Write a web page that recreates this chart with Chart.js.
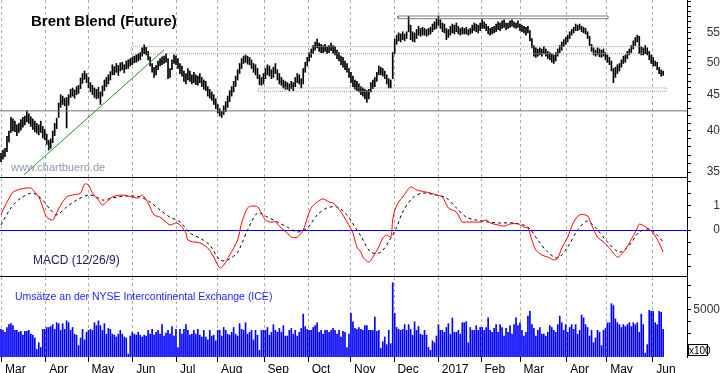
<!DOCTYPE html>
<html>
<head>
<meta charset="utf-8">
<script src="https://cdn.jsdelivr.net/npm/chart.js@4.4.0/dist/chart.umd.min.js"></script>
<style>
  html, body { margin: 0; padding: 0; background: #fff; }
  #wrap { position: relative; width: 723px; height: 373px; overflow: hidden; background: #fff; }
  canvas { position: absolute; left: 0; }
</style>
</head>
<body>
<div id="wrap">
  <canvas id="price" style="top:0" width="723" height="178"></canvas>
  <canvas id="macd" style="top:178px" width="723" height="99"></canvas>
  <canvas id="vol" style="top:277px" width="723" height="96"></canvas>
</div>
<script>
// month starts, as bar index (one bar per trading day, first bar = 29 Feb 2016)
const monthStarts = [0.4, 22.6, 43.9, 66.3, 88.4, 109, 132.4, 154.6, 175.9, 197.7, 220, 241.5, 261.1, 284.6, 304.7, 327.9];
const monthLabels = ['Mar', 'Apr', 'May', 'Jun', 'Jul', 'Aug', 'Sep', 'Oct', 'Nov', 'Dec', '2017', 'Feb', 'Mar', 'Apr', 'May', 'Jun'];

// daily highs / lows (USD)
const priceHigh = [
  37.2, 37.6, 37.8, 39.3, 40.0, 41.8, 41.6, 41.3, 40.8, 41.0, 41.5, 41.8, 42.0, 42.7, 42.3, 41.9, 41.6, 41.3, 41.0, 40.8, 41.3, 40.6,
  40.2, 39.6, 38.8, 39.0, 40.0, 41.0, 41.7, 43.8, 45.0, 44.8, 44.5, 44.6, 45.0, 45.8, 46.0, 45.7, 46.2, 46.4, 47.5, 48.2, 48.6, 48.2,
  47.6, 46.8, 46.4, 46.0, 45.8, 46.1, 45.4, 46.3, 47.2, 47.6, 48.0, 48.5, 49.6, 49.3, 49.8, 49.5, 49.9, 50.0, 49.6, 50.2, 50.4, 50.6,
  50.8, 51.0, 51.2, 51.4, 51.6, 52.4, 52.9, 52.5, 51.8, 50.9, 49.8, 49.2, 49.5, 50.2, 50.6, 50.9, 51.0, 51.4, 50.6, 49.0, 50.4, 51.2,
  51.0, 50.6, 49.8, 49.4, 48.6, 48.2, 49.0, 48.6, 48.0, 48.4, 48.0, 47.8, 48.2, 47.6, 47.2, 47.0, 46.2, 45.8, 45.4, 45.0, 44.4,
  43.6, 43.0, 42.6, 43.4, 44.0, 44.8, 45.6, 46.2, 47.0, 47.8, 48.8, 49.8, 50.6, 51.0, 51.2, 51.0, 50.8, 50.4, 49.8, 49.6, 49.0, 48.0, 47.6,
  48.2, 49.0, 49.6, 49.4, 48.8, 49.2, 49.8, 48.8, 48.2, 47.6, 47.2, 47.0, 46.8, 46.6, 47.0, 46.8, 47.6, 48.2, 48.0, 47.4, 49.0, 50.0,
  50.8, 51.6, 52.2, 52.8, 53.4, 53.9, 53.2, 53.0, 52.8, 53.0, 52.6, 52.8, 53.2, 52.8, 52.6, 52.0, 51.6, 51.0, 50.8, 50.2, 49.8, 49.0,
  48.4, 47.8, 47.2, 47.0, 46.6, 46.2, 46.0, 45.8, 45.6, 45.8, 46.8, 47.2, 47.6, 48.4, 49.4, 49.2, 49.0, 48.6, 48.0, 47.4, 47.2, 51.6,
  53.9, 54.6, 55.0, 54.8, 55.2, 54.8, 55.2, 58.0, 56.4, 55.2, 55.0, 55.6, 56.2, 55.8, 56.0, 55.8, 55.6, 55.8, 56.0, 56.6, 57.0, 57.6,
  58.1, 57.4, 56.8, 56.6, 55.8, 55.6, 56.2, 56.6, 56.4, 56.8, 56.2, 55.8, 56.0, 55.8, 56.0, 55.6, 55.8, 56.4, 56.8, 56.6, 56.4,
  56.8, 57.4, 57.0, 56.6, 56.2, 55.8, 56.0, 56.2, 56.6, 57.0, 56.8, 57.2, 57.4, 56.8, 56.8, 57.2, 57.4, 57.0, 56.8, 57.2,
  56.6, 56.4, 56.2, 56.0, 56.2, 55.4, 54.0, 52.8, 52.4, 52.2, 52.4, 52.2, 52.6, 52.2, 51.8, 51.6, 51.4, 51.2, 51.6, 52.2, 52.8, 53.4, 53.8,
  54.2, 54.6, 55.2, 55.6, 56.0, 56.6, 56.4, 56.6, 56.2, 56.0, 55.8, 55.2, 54.4, 53.0, 52.4, 52.0, 52.4, 52.2, 52.0, 52.2,
  51.6, 51.2, 50.8, 50.2, 49.0, 49.2, 49.6, 49.8, 50.4, 51.0, 51.2, 51.8, 52.2, 52.8, 53.6, 54.2, 54.6, 54.4, 52.6, 52.4, 52.8, 52.4, 51.8,
  51.2, 50.8, 50.2, 50.0, 49.2, 48.8, 48.6
];
const priceLow = [
  36.2, 36.5, 36.8, 37.4, 38.6, 39.8, 40.0, 39.9, 39.4, 39.8, 40.1, 40.5, 40.8, 41.2, 41.0, 40.6, 40.2, 39.9, 39.7, 39.5, 39.8, 39.1,
  38.9, 38.3, 37.6, 37.8, 38.5, 39.4, 40.3, 41.8, 43.2, 43.6, 43.4, 40.4, 43.5, 44.6, 44.8, 44.5, 45.0, 45.2, 45.9, 46.7, 47.3, 46.8,
  46.0, 45.4, 45.0, 44.6, 44.4, 44.5, 43.6, 44.8, 45.6, 46.2, 46.6, 47.2, 48.0, 48.0, 48.4, 47.9, 48.6, 48.8, 48.3, 48.9, 49.0, 49.4,
  49.6, 49.9, 50.0, 50.2, 50.4, 51.0, 51.4, 51.2, 50.4, 49.4, 48.4, 47.6, 48.0, 48.8, 49.4, 49.6, 49.8, 50.0, 47.4, 47.6, 48.8, 49.8,
  49.6, 49.0, 48.2, 47.8, 47.0, 46.6, 47.2, 47.0, 46.6, 46.8, 46.5, 46.4, 46.8, 46.2, 45.8, 45.6, 44.8, 44.5, 44.2, 43.6, 43.0,
  42.4, 42.0, 41.8, 42.2, 42.6, 43.2, 44.0, 44.8, 45.4, 46.2, 47.2, 48.2, 49.0, 49.8, 50.0, 49.7, 49.6, 49.0, 48.4, 48.0, 47.4, 46.5, 46.4,
  46.6, 47.4, 48.0, 47.8, 47.4, 47.6, 48.2, 47.2, 46.6, 46.4, 46.0, 45.8, 45.8, 45.6, 45.9, 45.6, 46.2, 46.8, 46.6, 46.0, 46.6, 48.4,
  49.4, 50.2, 50.8, 51.4, 52.0, 52.4, 51.8, 51.6, 51.6, 51.8, 51.4, 51.6, 51.9, 51.5, 51.2, 50.6, 50.2, 49.6, 49.2, 48.8, 48.4, 47.6,
  46.8, 46.2, 45.8, 45.6, 45.4, 45.0, 44.8, 44.4, 43.9, 44.4, 45.4, 45.9, 46.2, 47.0, 48.0, 48.0, 47.8, 47.4, 46.6, 46.0, 46.0, 47.4,
  51.4, 53.0, 53.6, 53.4, 53.8, 53.6, 54.0, 55.2, 53.8, 53.5, 53.4, 54.0, 54.6, 54.4, 54.6, 54.6, 54.4, 54.6, 54.8, 55.2, 55.6, 55.8,
  56.4, 55.8, 55.2, 55.0, 53.8, 54.2, 54.6, 55.0, 54.8, 55.2, 54.8, 54.6, 54.8, 54.8, 54.8, 54.6, 54.8, 55.0, 55.4, 55.2, 55.0,
  55.4, 55.8, 55.8, 55.4, 54.8, 54.6, 54.8, 55.0, 55.2, 55.6, 55.4, 55.8, 56.0, 55.6, 55.8, 56.0, 56.2, 56.0, 55.8, 56.0,
  55.4, 55.2, 55.0, 54.6, 55.0, 53.6, 52.4, 51.0, 50.8, 51.0, 51.2, 51.0, 51.4, 51.0, 50.6, 50.4, 50.0, 49.8, 50.2, 51.0, 51.6, 52.0, 52.6,
  53.0, 53.4, 54.0, 54.6, 55.0, 55.4, 55.4, 55.6, 55.2, 55.0, 54.8, 54.0, 52.8, 51.8, 51.2, 51.0, 51.2, 50.9, 50.8, 51.0,
  50.4, 50.0, 49.6, 48.6, 46.8, 47.6, 48.2, 48.6, 49.2, 49.8, 50.0, 50.6, 51.2, 51.6, 52.2, 52.8, 53.4, 51.4, 51.2, 51.2, 51.4, 51.2, 50.4,
  49.8, 49.4, 49.4, 48.8, 48.2, 47.8, 47.9
];

// chart marks drawn on the price panel: [fromIdx, toIdx, low, high]
const boxes = [
  [65.4, 322.4, 51.4, 52.6],
  [129.3, 334.5, 45.5, 46.0],
  [199.7, 305.3, 57.6, 58.1]
];
const supportLevel = 42.7;
const trendFrom = [11.6, 34.7];
const trendTo = [82, 52.05];

// MACD (12/26/9), sampled
const macdIdx = [0,1,3,5,6,10,15,16,19,21,23,26,27,30,33,36,40,42,44,46,49,51,53,56,61,66,69,71,74,77,80,83,85,88,90,93,94,97,100,104,107,110,112,115,119,121,124,126,129,131,133,135,138,141,144,146,149,152,154,156,159,162,165,167,171,174,177,179,181,182,185,187,190,192,194,196,197,198,200,202,206,209,216,219,222,225,229,232,234,237,241,244,246,250,253,256,260,263,265,267,269,272,275,278,280,282,285,288,291,295,297,300,303,306,310,313,316,320,321,325,328,331,333];
const macdLine = [0.62,0.82,1.15,1.44,1.56,1.69,1.73,1.65,1.36,0.95,0.53,0.41,0.53,1.03,1.36,1.44,1.52,1.89,1.85,1.52,1.23,1.03,1.15,1.36,1.44,1.36,1.32,1.44,1.11,0.62,0.53,0.33,0.21,0.29,0.21,-0.12,-0.41,-0.49,-0.53,-0.74,-1.11,-1.56,-1.44,-1.03,-0.41,0.29,0.91,0.99,0.95,0.70,0.41,0.33,0.33,0.08,-0.12,-0.29,-0.29,0,0.49,0.91,1.15,1.28,1.15,1.11,0.74,0.33,-0.12,-0.70,-0.91,-1.11,-1.32,-1.11,-0.70,-0.33,-0.21,-0.29,0.41,0.82,1.15,1.36,1.77,1.65,1.52,1.44,1.36,0.91,0.74,0.33,0.33,0.33,0.33,0.41,0.29,0.21,0.16,0.25,0.25,0.12,0.08,-0.41,-0.82,-1.03,-1.11,-1.23,-1.15,-0.74,-0.29,0.33,0.62,0.58,0.21,-0.29,-0.49,-0.74,-1.11,-0.91,-0.53,0.08,0.25,0.08,-0.12,-0.53,-0.91];
const signalIdx = [0,5,10,16,21,25,28,33,38,44,48,51,56,63,70,75,80,85,90,95,100,105,110,114,119,124,129,134,139,144,149,154,159,164,169,174,179,181,186,191,196,199,202,207,212,219,224,229,234,239,245,251,258,265,270,275,280,285,290,295,300,305,311,316,321,326,330,333];
const signalLine = [0.21,0.91,1.32,1.52,1.23,0.82,0.62,0.95,1.23,1.44,1.36,1.23,1.32,1.40,1.36,1.15,0.82,0.53,0.33,-0.12,-0.33,-0.62,-1.23,-1.23,-0.91,0,0.70,0.53,0.33,0.12,-0.08,0.08,0.62,0.91,0.95,0.62,0,-0.25,-0.91,-0.91,-0.33,0.12,0.74,1.32,1.52,1.44,1.32,0.91,0.53,0.41,0.33,0.29,0.29,0.12,-0.41,-0.91,-1.15,-0.70,0,0.37,0,-0.49,-0.91,-0.62,-0.08,0.04,-0.21,-0.49];

// daily volume (x100)
const volume = [
  2900, 2800, 2600, 3100, 3400, 3500, 3300, 2800, 2800, 2600, 2700, 2300, 2700, 2700, 2800, 2400, 2300, 2000, 800, 1500, 1000, 2900,
  2900, 3100, 3100, 3200, 3400, 2900, 3600, 3500, 2800, 3500, 2900, 3800, 3600, 2800, 3100, 2400, 2300, 1200, 2000, 2900, 1800, 2600,
  2800, 2900, 2800, 3600, 3300, 3800, 3300, 2800, 3500, 2400, 3000, 2900, 2400, 2300, 2100, 2400, 2800, 2400, 2100, 2000, 300, 2200,
  2600, 2400, 2300, 2600, 2300, 2100, 2300, 2200, 2800, 2400, 2900, 2300, 2600, 2800, 2400, 3400, 2200, 2500, 2800, 2400, 3200, 2200,
  2900, 1000, 2900, 2400, 2900, 3400, 2800, 2300, 2400, 2800, 2400, 2900, 2300, 2100, 2800, 2100, 1800, 2800, 2200, 2300, 1700,
  2800, 2800, 2200, 3100, 2800, 2400, 2300, 2600, 3100, 2400, 2200, 3500, 2900, 2800, 3600, 2400, 2600, 2800, 1800, 2800, 2300, 700, 2800,
  2800, 2800, 3100, 2300, 2600, 3400, 2800, 2600, 3000, 2600, 3300, 2200, 2200, 2800, 3000, 2400, 2800, 2200, 2600, 3000, 4500, 3200,
  2900, 2800, 2800, 3100, 3300, 3600, 2600, 2800, 2400, 2800, 2800, 2600, 2800, 3000, 2800, 2400, 2800, 2100, 2700, 2600, 1000, 2400,
  4600, 3700, 3000, 2900, 3100, 2900, 2800, 3300, 3300, 2800, 2800, 2800, 4200, 2700, 2800, 900, 1600, 2100, 1300, 2800, 1400, 7800,
  4600, 3100, 2900, 2800, 2900, 3400, 2800, 3400, 2900, 2300, 3700, 2800, 3200, 2400, 2300, 2800, 2300, 1000, 700, 1700, 1500, 2200,
  3400, 2800, 2800, 2600, 3100, 3500, 2400, 4100, 2600, 2600, 2800, 2400, 3600, 3600, 3700, 1500, 3100, 2800, 2800, 3300, 2800,
  3100, 3100, 2800, 3100, 4100, 2800, 2600, 3000, 3400, 2600, 3400, 3100, 2200, 3000, 2600, 3300, 2400, 3400, 4100, 3300,
  3600, 2800, 2200, 2600, 4300, 4800, 3400, 3000, 2200, 2800, 3100, 2400, 2400, 2200, 2600, 3300, 3100, 2800, 2600, 3400, 4300, 3600, 2800,
  3400, 2600, 3100, 3400, 2900, 3400, 2400, 2800, 4400, 4100, 3400, 3100, 2200, 2800, 1500, 2000, 2800, 2600, 1200, 2800,
  3000, 3600, 3600, 5600, 5400, 4000, 3600, 3400, 3100, 3400, 3200, 3400, 3600, 3200, 3600, 3400, 3600, 2600, 4500, 3400, 400, 1300, 4900,
  4800, 4800, 3600, 3400, 4800, 4700, 2900
];

const priceTicks = [35, 36, 37, 38, 39, 40, 41, 42, 43, 44, 45, 46, 47, 48, 49, 50, 51, 52, 53, 54, 55, 56, 57, 58, 59, 60, 61];
const priceLabels = [35, 40, 45, 50, 55];
const macdTicks = [-1.5, -1, -0.5, 0, 0.5, 1, 1.5, 2];
const macdLabels = [0, 1];
const volTicks = [1250, 2500, 3750, 5000, 6250, 7500];
const volLabels = [5000];

const FONT = '"Liberation Sans", Arial, sans-serif';
const X_MIN = -0.5, X_MAX = 345;
const GRID = '#b2a8b8';

function xScale(withLabels) {
  return {
    type: 'linear', min: X_MIN, max: X_MAX, offset: false,
    afterBuildTicks: s => { s.ticks = monthStarts.map(v => ({ value: v })); },
    afterFit: s => { s.height = withLabels ? 16 : 0; s.paddingLeft = 0; s.paddingRight = 0; },
    grid: { color: GRID, lineWidth: 1, offset: false, drawTicks: withLabels, tickLength: 5, tickColor: '#000', tickBorderDash: [] },
    border: { display: !withLabels, color: '#000', dash: [3, 3] },
    ticks: {
      display: withLabels, autoSkip: false, maxRotation: 0, minRotation: 0, align: 'start', padding: 0,
      color: '#000', font: { family: FONT, size: 12 },
      callback: (v, i) => ' ' + monthLabels[i]
    }
  };
}

function yScale(ticks, labels, extra) {
  return Object.assign({
    position: 'right',
    afterBuildTicks: s => { s.ticks = ticks.map(v => ({ value: v })); },
    afterFit: s => { s.width = 33; s.paddingTop = 0; s.paddingBottom = 0; },
    grid: { drawOnChartArea: false, drawTicks: true, tickLength: 4, color: '#000' },
    border: { display: true, color: '#000' },
    ticks: {
      autoSkip: false, crossAlign: 'far', padding: 3, color: '#333', font: { family: FONT, size: 12 },
      callback: v => (labels.includes(v) ? String(v) : '')
    }
  }, extra);
}

function baseOptions(bottomPad) {
  return {
    responsive: false, animation: false, events: [],
    layout: { padding: { top: 0, left: 0, right: 3, bottom: bottomPad } },
    plugins: { legend: { display: false }, tooltip: { enabled: false } }
  };
}

function textPlugin(draw) {
  return { id: 'txt', afterDraw: c => { const ctx = c.ctx; ctx.save(); draw(ctx); ctx.restore(); } };
}

// ---------- price panel ----------
const overlay = [];
boxes.forEach((b, k) => {
  overlay.push({
    type: 'line',
    data: [{ x: b[0], y: b[2] }, { x: b[1], y: b[2] }, { x: b[1], y: b[3] }, { x: b[0], y: b[3] }, { x: b[0], y: b[2] }],
    borderColor: k === 2 ? '#7a7a7a' : 'rgba(130,150,130,0.9)', borderWidth: 1, borderDash: k === 2 ? [] : [1, 1],
    pointRadius: 0, fill: false, tension: 0
  });
});
overlay.push({
  type: 'line', data: [{ x: X_MIN, y: supportLevel }, { x: X_MAX, y: supportLevel }],
  borderColor: '#707070', borderWidth: 1, pointRadius: 0, fill: false
});
overlay.push({
  type: 'line', data: [{ x: trendFrom[0], y: trendFrom[1] }, { x: trendTo[0], y: trendTo[1] }],
  borderColor: '#1a9a1a', borderWidth: 1, pointRadius: 0, fill: false
});

new Chart(document.getElementById('price'), {
  type: 'bar',
  data: {
    datasets: [
      ...overlay,
      {
        type: 'bar',
        data: priceLow.map((lo, i) => ({ x: i, y: [lo, priceHigh[i]] })),
        backgroundColor: '#000', borderWidth: 0, barThickness: 1
      }
    ]
  },
  options: Object.assign(baseOptions(1), {
    scales: {
      x: xScale(false),
      y: yScale(priceTicks, priceLabels, { type: 'logarithmic', min: 34.45, max: 61.2 })
    }
  }),
  plugins: [textPlugin(ctx => {
    ctx.fillStyle = '#000';
    ctx.font = 'bold 15px ' + FONT;
    ctx.fillText('Brent Blend (Future)', 31, 26);
    ctx.fillStyle = '#8e98ae';
    ctx.font = '11px ' + FONT;
    ctx.fillText('www.chartbuero.de', 11, 171);
  })]
});

// ---------- MACD panel ----------
new Chart(document.getElementById('macd'), {
  type: 'line',
  data: {
    datasets: [
      {
        data: macdIdx.map((x, i) => ({ x, y: macdLine[i] })),
        borderColor: '#ff0000', borderWidth: 1, pointRadius: 0, tension: 0.3, fill: false
      },
      {
        data: signalIdx.map((x, i) => ({ x, y: signalLine[i] })),
        borderColor: '#000', borderWidth: 1, borderDash: [3, 3], pointRadius: 0, tension: 0.3, fill: false
      }
    ]
  },
  options: Object.assign(baseOptions(1), {
    scales: {
      x: xScale(false),
      y: yScale(macdTicks, macdLabels, {
        type: 'linear', min: -1.89, max: 2.14,
        grid: {
          drawOnChartArea: true, drawTicks: true, tickLength: 4, tickColor: '#000', lineWidth: 1,
          color: c => (c.tick && c.tick.value === 0 ? '#0000ff' : 'rgba(0,0,0,0)')
        }
      })
    }
  }),
  plugins: [textPlugin(ctx => {
    ctx.fillStyle = '#1c1c66';
    ctx.font = '12px ' + FONT;
    ctx.fillText('MACD (12/26/9)', 33, 86);
  })]
});

// ---------- volume panel ----------
new Chart(document.getElementById('vol'), {
  type: 'bar',
  data: {
    datasets: [{
      data: volume.map((v, i) => ({ x: i, y: v })),
      backgroundColor: '#0000ff', borderWidth: 0, barThickness: 1
    }]
  },
  options: Object.assign(baseOptions(0), {
    scales: {
      x: xScale(true),
      y: yScale(volTicks, volLabels, { type: 'linear', min: 0, max: 8400 })
    }
  }),
  plugins: [textPlugin(ctx => {
    ctx.fillStyle = '#1f1fff';
    ctx.font = '10.5px ' + FONT;
    ctx.fillText('Umsätze an der NYSE Intercontinental Exchange (ICE)', 15, 23);
    ctx.strokeStyle = '#000';
    ctx.lineWidth = 1;
    ctx.fillStyle = '#fff';
    ctx.fillRect(688.5, 67.5, 19, 11);
    ctx.strokeRect(688.5, 67.5, 19, 11);
    ctx.fillStyle = '#000';
    ctx.font = '10px ' + FONT;
    ctx.fillText('x100', 689, 76.5);
  })]
});
</script>
</body>
</html>
